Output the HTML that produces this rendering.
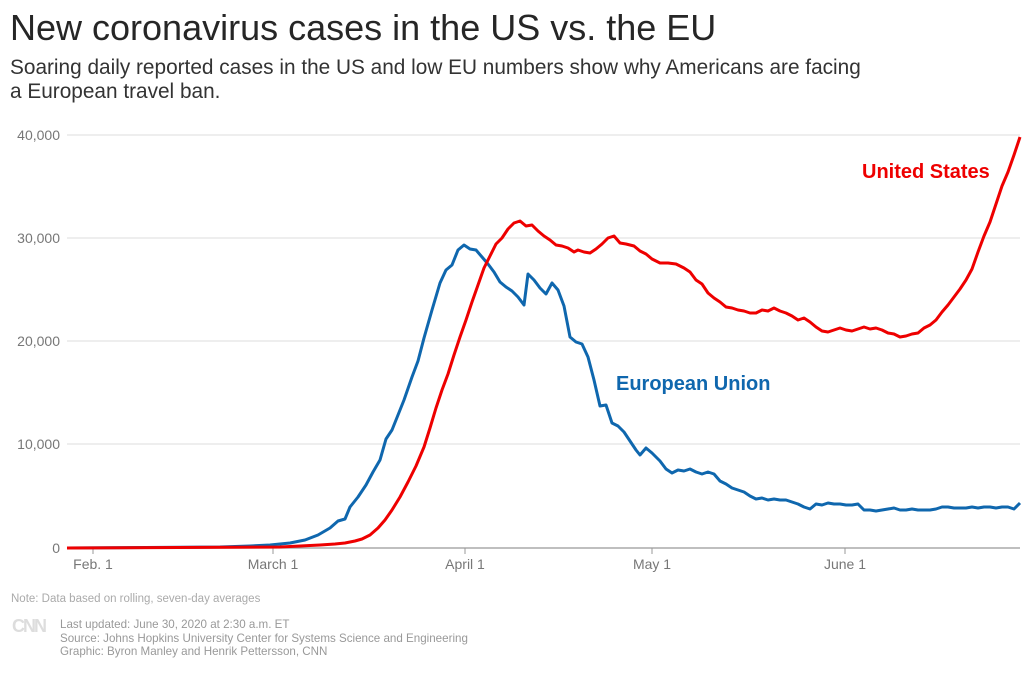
<!DOCTYPE html>
<html><head><meta charset="utf-8"><style>
body{margin:0;background:#fff;width:1031px;height:671px;overflow:hidden;font-family:"Liberation Sans",sans-serif}
</style></head><body>
<svg width="1031" height="671" xmlns="http://www.w3.org/2000/svg" font-family="Liberation Sans, sans-serif">
<text x="10" y="40" font-size="36" fill="#262626">New coronavirus cases in the US vs. the EU</text>
<text x="10" y="74" font-size="20.8" fill="#333">Soaring daily reported cases in the US and low EU numbers show why Americans are facing</text>
<text x="10" y="98" font-size="20.8" fill="#333">a European travel ban.</text>
<g stroke="#e3e3e3" stroke-width="1.2">
<line x1="67" y1="135" x2="1020" y2="135"/><line x1="67" y1="238" x2="1020" y2="238"/>
<line x1="67" y1="341" x2="1020" y2="341"/><line x1="67" y1="444" x2="1020" y2="444"/>
</g>
<line x1="67" y1="548" x2="1020" y2="548" stroke="#999" stroke-width="1.2"/>
<g font-size="14" fill="#777" text-anchor="end">
<text x="60" y="140">40,000</text><text x="60" y="243">30,000</text><text x="60" y="346">20,000</text><text x="60" y="449">10,000</text><text x="60" y="553">0</text>
</g>
<g stroke="#999"><line x1="93" y1="548" x2="93" y2="554"/><line x1="273" y1="548" x2="273" y2="554"/><line x1="465" y1="548" x2="465" y2="554"/><line x1="652" y1="548" x2="652" y2="554"/><line x1="845" y1="548" x2="845" y2="554"/></g>
<g font-size="14" fill="#777" text-anchor="middle">
<text x="93" y="569">Feb. 1</text><text x="273" y="569">March 1</text><text x="465" y="569">April 1</text><text x="652" y="569">May 1</text><text x="845" y="569">June 1</text>
</g>
<polyline fill="none" stroke="#0f67ae" stroke-width="3" stroke-linejoin="round" points="67,548 220,547 250,546 270,545 290,543 305,540 318,535 330,528 338,521 345,519 350,507 358,497 366,485 373,472 380,460 386,439 392,430 398,415 404,400 412,377 418,361 424,338 432,310 440,283 446,270 452,265 458,250 464,245 470,249 476,250 482,257 488,264 494,272 500,282 506,287 512,291 518,297 524,305 528,274 534,280 540,288 546,294 552,283 558,290 564,306 570,337 576,342 582,344 588,357 594,380 600,406 606,405 612,423 618,426 624,432 630,441 636,450 640,455 646,448 652,453 660,461 666,469 672,473 678,470 684,471 690,469 696,472 702,474 708,472 714,474 720,481 726,484 732,488 738,490 744,492 750,496 756,499 762,498 768,500 774,499 780,500 786,500 792,502 798,504 804,507 810,509 816,504 822,505 828,503 834,504 840,504 846,505 852,505 858,504 864,510 870,510 876,511 882,510 888,509 894,508 900,510 906,510 912,509 918,510 924,510 930,510 936,509 942,507 948,507 954,508 960,508 966,508 972,507 978,508 984,507 990,507 996,508 1002,507 1008,507 1014,509 1020,503"/>
<polyline fill="none" stroke="#e00" stroke-width="3" stroke-linejoin="round" points="67,548 280,547 300,546 320,545 335,544 345,543 355,541 362,539 370,535 378,528 385,520 392,510 400,497 408,482 416,466 424,447 430,428 436,408 442,390 448,374 454,355 460,337 466,320 472,302 478,285 484,268 490,256 496,244 502,238 508,229 514,223 520,221 526,226 532,225 538,231 544,236 550,240 556,245 562,246 568,248 574,252 578,250 584,252 590,253 596,249 602,244 608,238 614,236 620,243 626,244 634,246 640,251 646,254 652,259 660,263 668,263 676,264 684,268 690,272 696,280 702,284 708,293 714,298 720,302 726,307 732,308 738,310 744,311 750,313 756,313 762,310 768,311 774,308 780,311 786,313 792,316 798,320 804,318 810,322 816,327 822,331 828,332 834,330 840,328 846,330 852,331 858,329 864,327 870,329 876,328 882,330 888,333 894,334 900,337 906,336 912,334 918,333 924,328 930,325 936,320 942,312 948,305 954,297 960,289 966,280 972,269 978,252 984,236 990,222 996,204 1002,186 1008,172 1014,155 1020,137"/>
<text x="862" y="178" font-size="20" fill="#e00" font-weight="bold">United States</text>
<text x="616" y="390" font-size="20" fill="#0f67ae" font-weight="bold">European Union</text>
<text x="11" y="602" font-size="11.5" fill="#aaa">Note: Data based on rolling, seven-day averages</text>
<text x="12" y="632" font-size="18" fill="#ddd" font-weight="bold" letter-spacing="-2">CNN</text>
<g font-size="11.6" fill="#999">
<text x="60" y="628">Last updated: June 30, 2020 at 2:30 a.m. ET</text>
<text x="60" y="642">Source: Johns Hopkins University Center for Systems Science and Engineering</text>
<text x="60" y="655">Graphic: Byron Manley and Henrik Pettersson, CNN</text>
</g>
</svg>
</body></html>
